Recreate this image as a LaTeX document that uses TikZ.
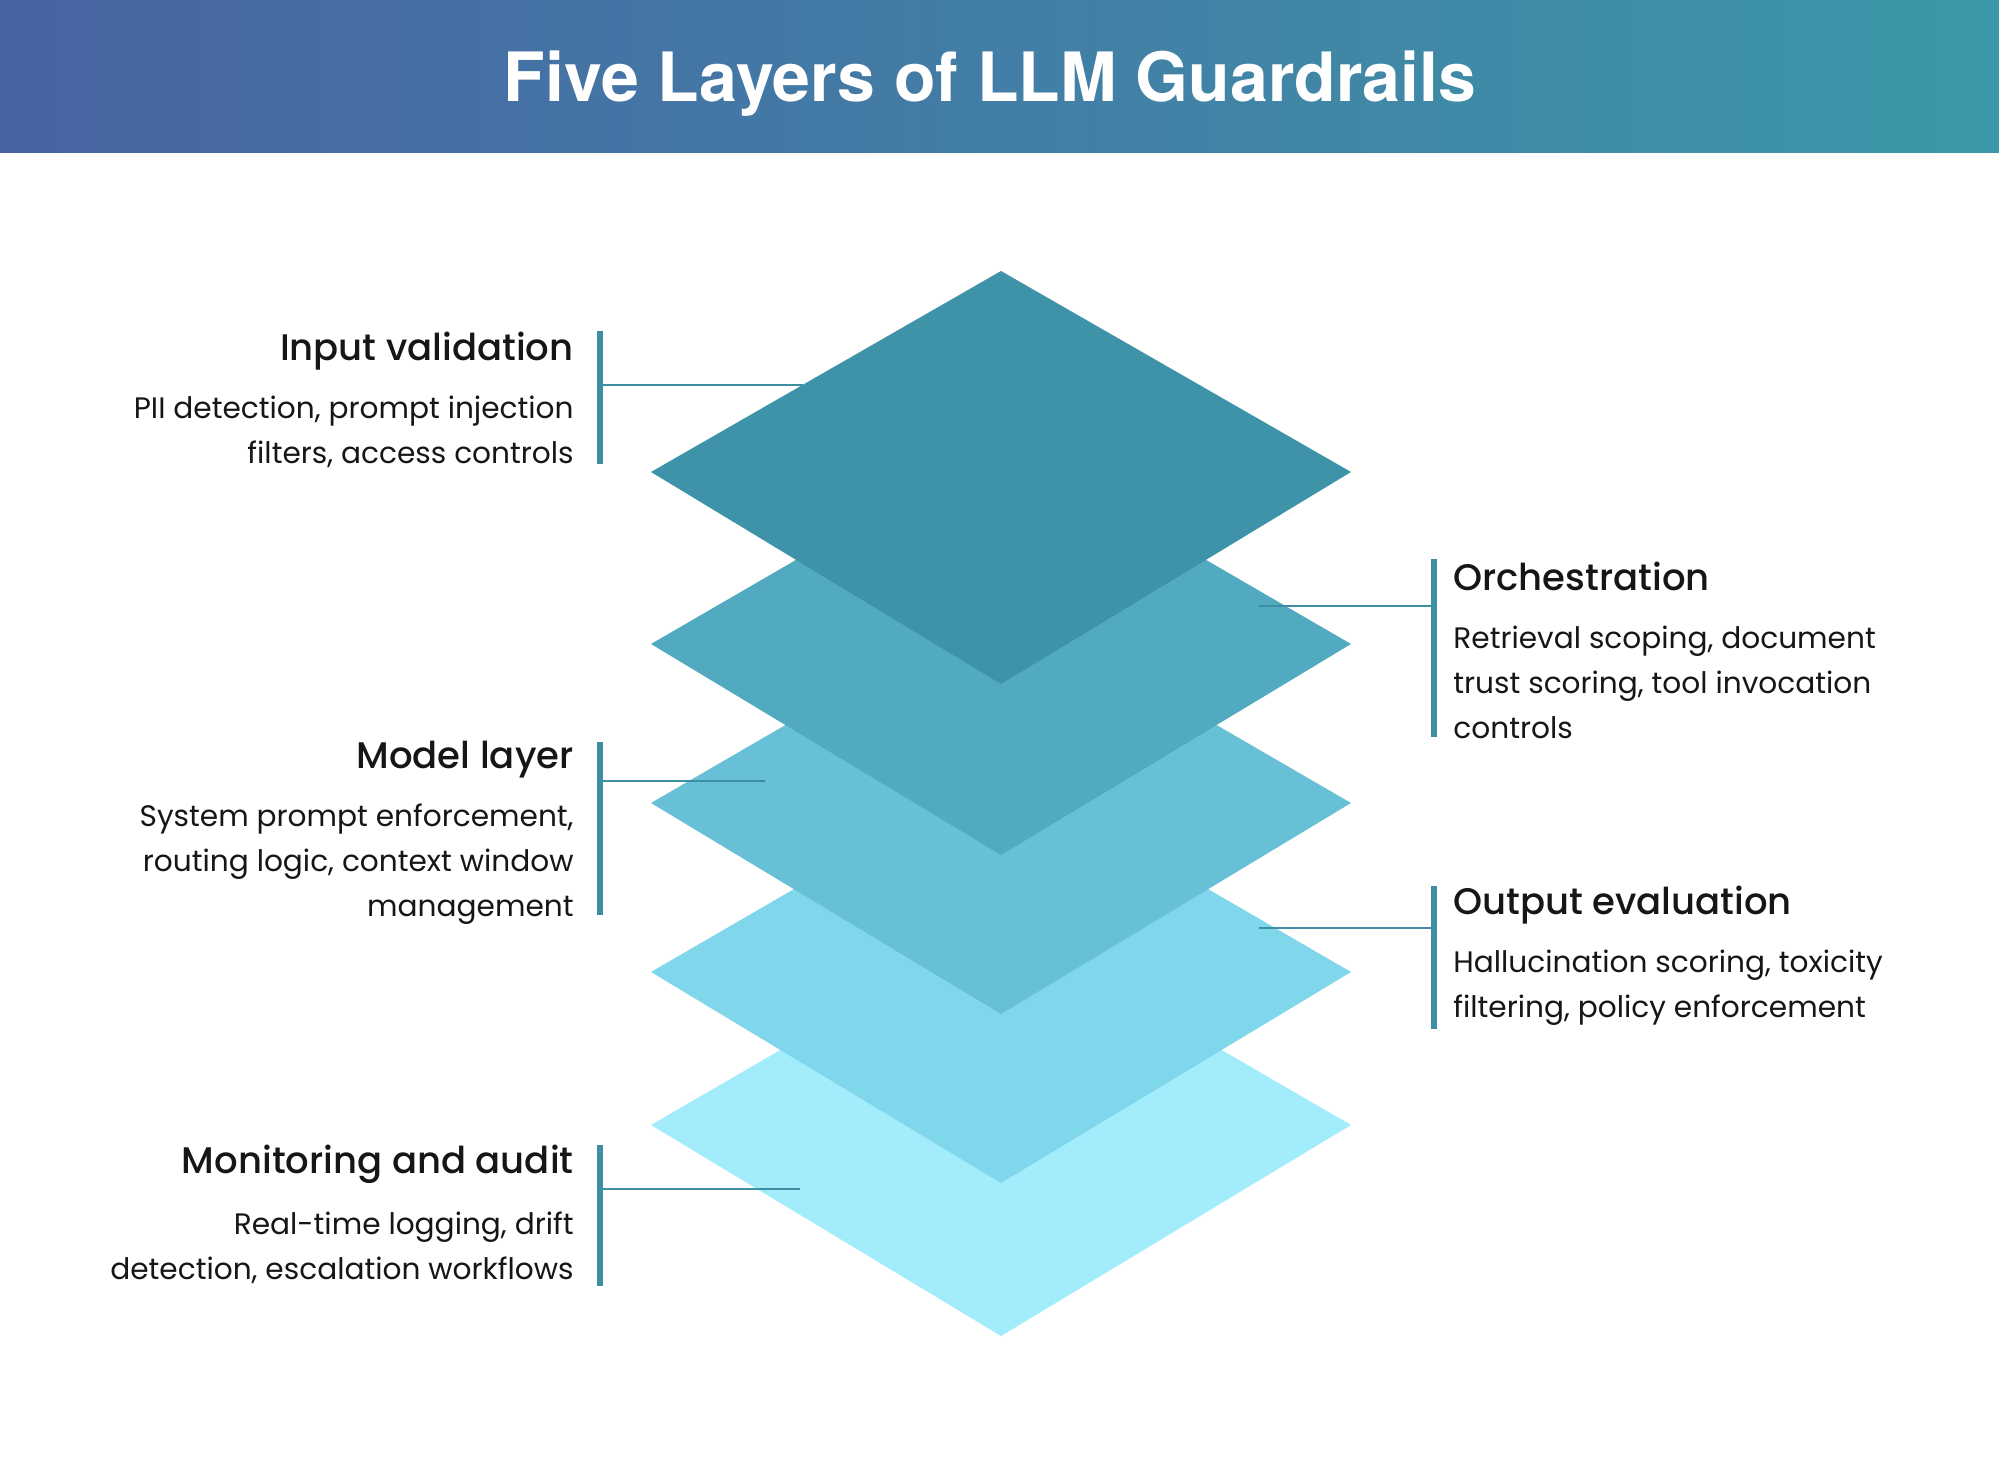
\documentclass[tikz,border=0pt]{standalone}
\usepackage{fontspec}
\setmainfont{Poppins}
\newfontfamily\headfont{Poppins Medium}
\newfontfamily\titlefont{TeX Gyre Heros}
\usetikzlibrary{positioning}

\definecolor{layerA}{RGB}{62,147,168}
\definecolor{layerB}{RGB}{82,170,192}
\definecolor{layerC}{RGB}{103,192,214}
\definecolor{layerD}{RGB}{128,214,234}
\definecolor{layerE}{RGB}{162,236,251}
\definecolor{barcol}{RGB}{62,143,163}
\definecolor{inkcol}{RGB}{22,22,22}
\definecolor{bandL}{RGB}{72,100,163}
\definecolor{bandR}{RGB}{60,152,168}

\tikzset{
	railbar/.style={draw=barcol, line width=3pt},
	tick/.style={draw=barcol, line width=1.1pt},
	headtxt/.style={font=\headfont\fontsize{18.5}{22}\selectfont, text=inkcol, inner sep=0pt},
	bodytxt/.style={font=\fontsize{14.8}{22.5}\selectfont, text=inkcol, inner sep=0pt},
}

\begin{document}
\begin{tikzpicture}[x=0.5pt,y=0.5pt,yscale=-1,xscale=1]
		\useasboundingbox (0,0) rectangle (1999,1470);
		\fill [white] (0,0) rectangle (1999,1470);
		% title band
		\shade [left color=bandL, right color=bandR] (0,0) rectangle (1999,153);
		\node (title) [anchor=base, inner sep=0pt, text=white, font=\titlefont\bfseries\fontsize{34}{40}\selectfont] at (990,102) {Five Layers of LLM Guardrails};
		% layers, bottom one first
		\fill [layerE] (1001,922) -- (1351,1125) -- (1001,1336) -- (651,1125) -- cycle ;
		\fill [layerD] (1001,769) -- (1351,972) -- (1001,1183) -- (651,972) -- cycle ;
		\fill [layerC] (1001,600) -- (1351,803) -- (1001,1014) -- (651,803) -- cycle ;
		\fill [layerB] (1001,441) -- (1351,644) -- (1001,855) -- (651,644) -- cycle ;
		\fill [layerA] (1001,271) -- (1351,472) -- (1001,684) -- (651,472) -- cycle ;
		% input validation
		\coordinate (inTop) at (600,331);
		\coordinate (inBot) at (600,464);
		\coordinate (inTip) at (803,385);
		\draw [railbar] (inTop) -- (inBot);
		\draw [tick] (inTip) -- (inTip -| inTop);
		\node (inHead) [headtxt, anchor=base east] at (574,361) {Input validation};
		\node (inBody) [bodytxt, anchor=north east, align=right] at (574,396) {PII detection, prompt injection\\filters, access controls};
		% orchestration
		\coordinate (orTop) at (1434,559);
		\coordinate (orBot) at (1434,737);
		\coordinate (orTip) at (1259,606);
		\draw [railbar] (orTop) -- (orBot);
		\draw [tick] (orTip) -- (orTip -| orTop);
		\node (orHead) [headtxt, anchor=base west] at (1453,591) {Orchestration};
		\node (orBody) [bodytxt, anchor=north west, align=left] at (1453,626) {Retrieval scoping, document\\trust scoring, tool invocation\\controls};
		% model layer
		\coordinate (moTop) at (600,742);
		\coordinate (moBot) at (600,915);
		\coordinate (moTip) at (765,781);
		\draw [railbar] (moTop) -- (moBot);
		\draw [tick] (moTip) -- (moTip -| moTop);
		\node (moHead) [headtxt, anchor=base east] at (574,769) {Model layer};
		\node (moBody) [bodytxt, anchor=north east, align=right] at (574,803) {System prompt enforcement,\\routing logic, context window\\management};
		% output evaluation
		\coordinate (ouTop) at (1434,886);
		\coordinate (ouBot) at (1434,1029);
		\coordinate (ouTip) at (1259,928);
		\draw [railbar] (ouTop) -- (ouBot);
		\draw [tick] (ouTip) -- (ouTip -| ouTop);
		\node (ouHead) [headtxt, anchor=base west] at (1453,914) {Output evaluation};
		\node (ouBody) [bodytxt, anchor=north west, align=left] at (1453,950) {Hallucination scoring, toxicity\\filtering, policy enforcement};
		% monitoring and audit
		\coordinate (mnTop) at (600,1145);
		\coordinate (mnBot) at (600,1286);
		\coordinate (mnTip) at (800,1189);
		\draw [railbar] (mnTop) -- (mnBot);
		\draw [tick] (mnTip) -- (mnTip -| mnTop);
		\node (mnHead) [headtxt, anchor=base east] at (574,1173) {Monitoring and audit};
		\node (mnBody) [bodytxt, anchor=north east, align=right] at (574,1211) {Real-time logging, drift\\detection, escalation workflows};
	\end{tikzpicture}
\end{document}
